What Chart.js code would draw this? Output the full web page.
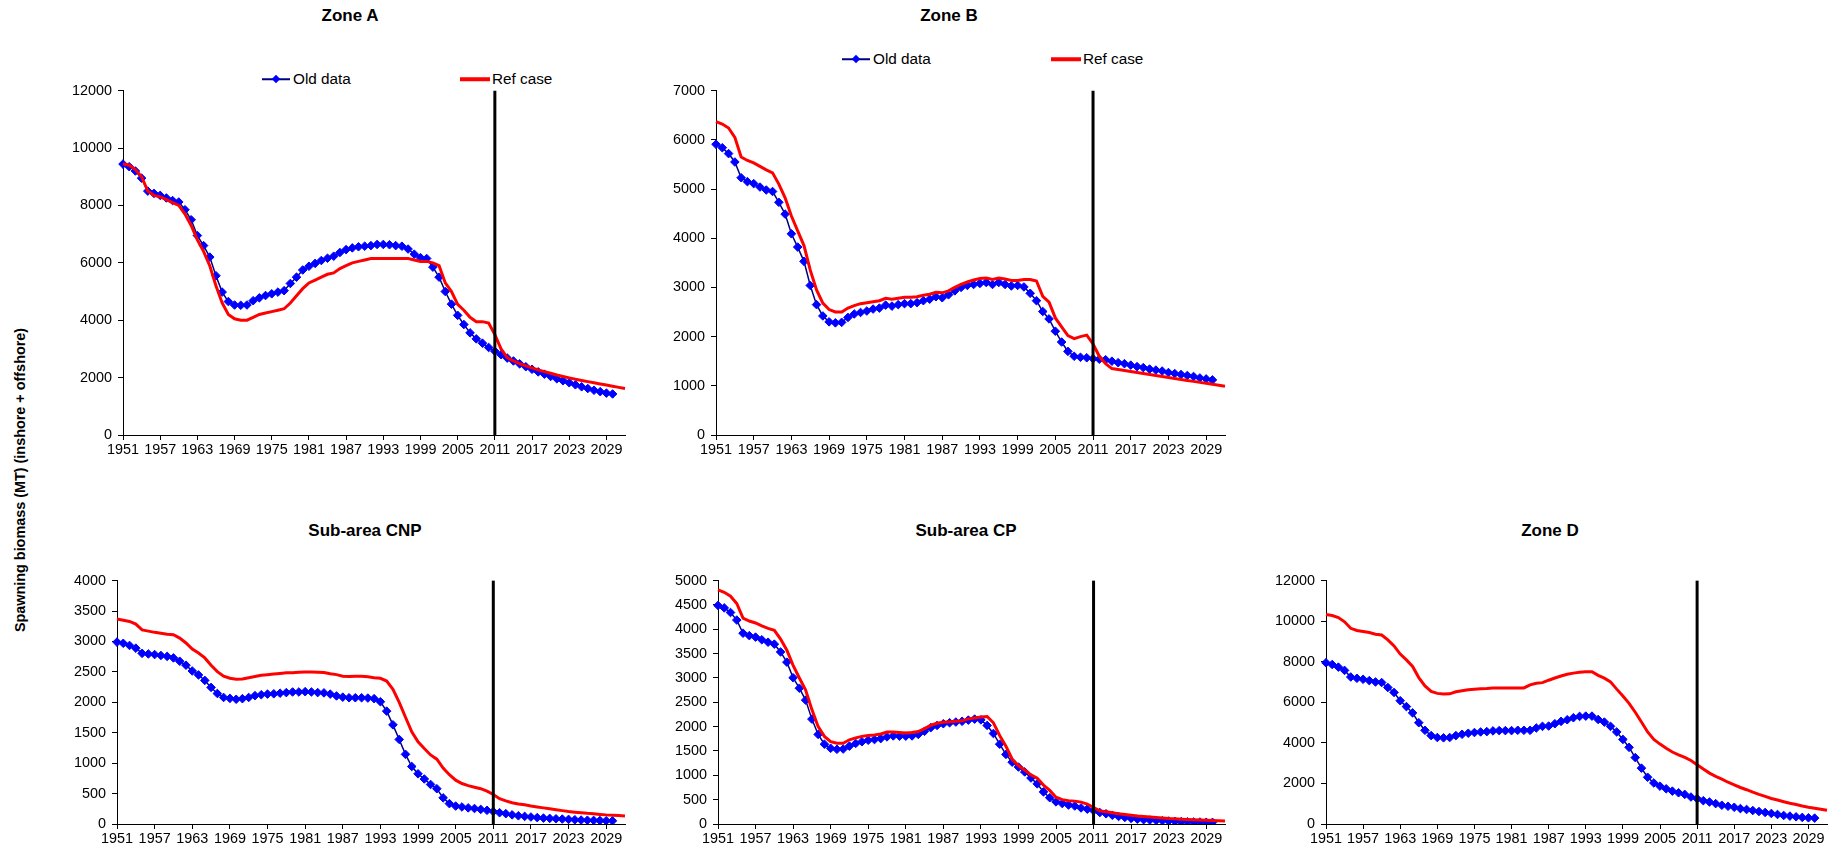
<!DOCTYPE html>
<html>
<head>
<meta charset="utf-8">
<script src="https://cdn.jsdelivr.net/npm/chart.js@4.4.1/dist/chart.umd.min.js"></script>
<style>
html,body{margin:0;padding:0;background:#fff;}
#page{position:relative;width:1832px;height:852px;overflow:hidden;font-family:"Liberation Sans",Arial,sans-serif;color:#000;}
#page canvas{position:absolute;}
.title{position:absolute;font-weight:bold;font-size:17px;line-height:1;white-space:nowrap;transform:translate(-50%,-50%);}
.ytitle{position:absolute;left:20px;top:480px;font-weight:bold;font-size:14.4px;line-height:1;white-space:nowrap;transform:translate(-50%,-50%) rotate(-90deg);}
.legtext{position:absolute;font-size:15.3px;line-height:1;white-space:nowrap;transform:translateY(-50%);}
.legline{position:absolute;transform:translateY(-50%);}
.legdiamond{position:absolute;width:6px;height:6px;background:#0000ff;transform:translate(-50%,-50%) rotate(45deg);}
</style>
</head>
<body>
<div id="page">
  <div class="title" style="left:350px;top:15px;">Zone A</div>
  <div class="title" style="left:949px;top:15px;">Zone B</div>
  <div class="title" style="left:365px;top:530px;">Sub-area CNP</div>
  <div class="title" style="left:966px;top:530px;">Sub-area CP</div>
  <div class="title" style="left:1550px;top:530px;">Zone D</div>
  <div class="ytitle">Spawning biomass (MT) (inshore + offshore)</div>

  <!-- legend Zone A -->
  <div class="legline" style="left:262px;top:79px;width:28px;height:1.5px;background:#000080;"></div>
  <div class="legdiamond" style="left:276px;top:79px;"></div>
  <div class="legtext" style="left:293px;top:79px;">Old data</div>
  <div class="legline" style="left:460px;top:79px;width:30px;height:3.5px;background:#ff0000;"></div>
  <div class="legtext" style="left:492px;top:79px;">Ref case</div>

  <!-- legend Zone B -->
  <div class="legline" style="left:842px;top:59px;width:28px;height:1.5px;background:#000080;"></div>
  <div class="legdiamond" style="left:856px;top:59px;"></div>
  <div class="legtext" style="left:873px;top:59px;">Old data</div>
  <div class="legline" style="left:1051px;top:59px;width:30px;height:3.5px;background:#ff0000;"></div>
  <div class="legtext" style="left:1083px;top:59px;">Ref case</div>
</div>
<script>
// ---------------- DATA ----------------
const YEARS = ['1951','1952','1953','1954','1955','1956','1957','1958','1959','1960',
  '1961','1962','1963','1964','1965','1966','1967','1968','1969','1970',
  '1971','1972','1973','1974','1975','1976','1977','1978','1979','1980',
  '1981','1982','1983','1984','1985','1986','1987','1988','1989','1990',
  '1991','1992','1993','1994','1995','1996','1997','1998','1999','2000',
  '2001','2002','2003','2004','2005','2006','2007','2008','2009','2010',
  '2011','2012','2013','2014','2015','2016','2017','2018','2019','2020',
  '2021','2022','2023','2024','2025','2026','2027','2028','2029','2030',
  '2031','2032'];
const X_TICK_LABELS = ['1951','1957','1963','1969','1975','1981','1987','1993','1999','2005','2011','2017','2023','2029'];
const MARKER_YEAR = '2011';

const ZONE_A_OLD = [9440,9350,9200,8950,8500,8420,8350,8260,8170,8120,
  7850,7500,6950,6600,6200,5550,4980,4650,4530,4520,
  4530,4680,4780,4860,4920,4980,5030,5280,5500,5750,
  5880,5980,6080,6160,6230,6360,6460,6520,6560,6580,
  6600,6640,6640,6630,6600,6580,6480,6300,6180,6150,
  5850,5500,5000,4560,4170,3850,3560,3350,3200,3050,
  2920,2800,2680,2580,2480,2380,2290,2200,2120,2040,
  1960,1890,1820,1750,1680,1620,1560,1510,1460,1430];
const ZONE_A_REF = [9450,9400,9250,9000,8500,8350,8300,8200,8100,8000,
  7700,7300,6800,6400,5900,5200,4600,4200,4050,4000,
  4000,4100,4200,4250,4300,4350,4400,4600,4850,5100,
  5300,5400,5500,5600,5650,5800,5900,6000,6050,6100,
  6150,6150,6150,6150,6150,6150,6150,6100,6050,6050,
  6000,5900,5300,5000,4550,4350,4100,3950,3950,3900,
  3500,3000,2700,2580,2490,2410,2340,2270,2210,2150,
  2090,2040,1990,1940,1900,1860,1820,1780,1740,1700,
  1660,1620];

const ZONE_B_OLD = [5910,5840,5720,5550,5230,5150,5110,5040,4980,4950,
  4730,4490,4090,3820,3530,3040,2650,2420,2300,2280,
  2290,2390,2460,2490,2520,2560,2580,2640,2620,2650,
  2670,2670,2690,2730,2760,2810,2790,2850,2930,3000,
  3040,3060,3080,3100,3060,3100,3060,3030,3040,3010,
  2880,2730,2510,2360,2110,1890,1700,1600,1580,1570,
  1550,1540,1530,1500,1470,1450,1420,1390,1370,1340,
  1320,1300,1270,1250,1230,1210,1190,1160,1140,1120];
const ZONE_B_REF = [6370,6320,6240,6050,5650,5580,5530,5460,5390,5330,
  5100,4820,4450,4150,3850,3350,2950,2680,2550,2500,
  2500,2580,2630,2670,2690,2710,2730,2780,2760,2780,
  2800,2800,2810,2840,2860,2900,2890,2930,3000,3060,
  3110,3150,3180,3190,3160,3190,3170,3140,3140,3160,
  3160,3130,2820,2700,2380,2200,2020,1960,2000,2030,
  1850,1600,1450,1350,1330,1310,1290,1270,1250,1230,
  1210,1190,1170,1150,1130,1110,1090,1070,1050,1030,
  1010,990];

const CNP_OLD = [2990,2970,2935,2890,2805,2795,2785,2770,2755,2730,
  2675,2610,2515,2450,2360,2245,2145,2080,2065,2050,
  2060,2080,2110,2125,2135,2140,2150,2160,2170,2170,
  2175,2170,2160,2155,2135,2105,2085,2075,2075,2075,
  2070,2060,2010,1855,1630,1390,1145,945,825,740,
  650,580,430,335,295,280,265,255,240,225,
  205,185,170,150,135,125,115,105,97,92,
  86,81,76,70,65,62,59,57,54,52];
const CNP_REF = [3370,3350,3330,3285,3190,3170,3150,3135,3120,3110,
  3055,2975,2875,2810,2730,2610,2505,2430,2395,2380,
  2385,2405,2425,2445,2455,2465,2475,2485,2485,2495,
  2500,2500,2495,2490,2470,2455,2430,2425,2430,2430,
  2420,2405,2395,2350,2215,2000,1755,1515,1350,1240,
  1135,1065,920,810,720,665,630,605,580,540,
  485,415,380,350,330,315,295,280,265,250,
  235,220,205,195,185,175,168,158,150,145,
  140,130];

const CP_OLD = [4490,4440,4345,4190,3920,3870,3840,3785,3735,3695,
  3535,3325,3005,2790,2545,2155,1840,1640,1555,1535,
  1540,1600,1655,1690,1720,1735,1755,1790,1810,1805,
  1805,1810,1840,1905,1980,2025,2060,2080,2095,2110,
  2135,2155,2140,2025,1860,1640,1430,1270,1170,1070,
  945,825,660,540,455,420,390,370,330,305,
  275,235,210,180,155,135,115,100,88,80,
  74,68,61,54,48,45,41,40,36,34];
const CP_REF = [4810,4760,4680,4530,4230,4170,4130,4070,4020,3980,
  3800,3570,3260,3000,2750,2350,2000,1800,1690,1660,
  1660,1730,1770,1800,1820,1830,1850,1890,1890,1880,
  1870,1880,1900,1960,2030,2070,2090,2100,2110,2120,
  2160,2180,2200,2210,2080,1820,1600,1330,1200,1110,
  1010,940,800,690,550,500,480,470,450,410,
  340,270,250,230,210,195,180,165,155,145,
  135,125,115,108,100,93,87,80,75,70,
  65,60];

const ZONE_D_OLD = [7950,7865,7735,7575,7250,7185,7135,7070,7005,6975,
  6730,6485,6080,5790,5480,4995,4620,4360,4265,4250,
  4265,4360,4425,4475,4510,4540,4555,4590,4605,4605,
  4605,4620,4620,4620,4735,4815,4830,4945,5060,5140,
  5240,5305,5320,5320,5155,5025,4815,4540,4170,3780,
  3275,2755,2305,2025,1865,1735,1620,1540,1460,1330,
  1250,1150,1085,1005,925,875,825,760,715,665,
  615,570,520,470,420,390,355,325,305,290];
const ZONE_D_REF = [10330,10280,10180,9970,9650,9540,9490,9440,9360,9320,
  9080,8780,8380,8090,7770,7220,6810,6540,6440,6410,
  6420,6520,6570,6620,6650,6670,6680,6700,6700,6700,
  6700,6710,6710,6860,6940,6970,7090,7200,7300,7380,
  7440,7480,7510,7510,7330,7190,7010,6650,6310,5950,
  5510,5030,4540,4170,3940,3730,3550,3410,3280,3130,
  2920,2710,2510,2350,2210,2060,1930,1800,1690,1570,
  1460,1360,1260,1180,1100,1020,960,890,830,780,
  730,680];

const SERIES_NAMES = ['Old data', 'Ref case'];

// ---------------- CHARTS ----------------
const FONT = '"Liberation Sans", Arial, sans-serif';
const page = document.getElementById('page');

const markerLine = {
  id: 'markerLine',
  afterDatasetsDraw(chart) {
    const x = chart.scales.x.getPixelForValue(YEARS.indexOf(MARKER_YEAR));
    const a = chart.chartArea;
    const ctx = chart.ctx;
    ctx.save();
    ctx.strokeStyle = '#000';
    ctx.lineWidth = 3;
    ctx.beginPath();
    ctx.moveTo(x, a.top);
    ctx.lineTo(x, a.bottom);
    ctx.stroke();
    ctx.restore();
  }
};

function makeChart(plot, yMax, yStep, oldData, refData) {
  const padL = 90, padT = 12, padR = 24, padB = 36;
  const cv = document.createElement('canvas');
  cv.width = plot.r - plot.l + padL + padR;
  cv.height = plot.b - plot.t + padT + padB;
  cv.style.left = (plot.l - padL) + 'px';
  cv.style.top = (plot.t - padT) + 'px';
  page.appendChild(cv);
  new Chart(cv, {
    type: 'line',
    data: {
      labels: YEARS,
      datasets: [
        { label: SERIES_NAMES[0], data: oldData, order: 1,
          borderColor: '#000080', borderWidth: 1.5,
          pointStyle: 'rectRot', pointRadius: 4.3, pointBorderWidth: 1,
          pointBackgroundColor: '#0000ff', pointBorderColor: '#0000ff',
          tension: 0 },
        { label: SERIES_NAMES[1], data: refData, order: 0,
          borderColor: '#ff0000', borderWidth: 3, pointRadius: 0, tension: 0 }
      ]
    },
    options: {
      responsive: false,
      animation: false,
      devicePixelRatio: 1,
      layout: { padding: { left: 0, top: padT, right: padR, bottom: 0 } },
      plugins: { legend: { display: false }, title: { display: false }, tooltip: { enabled: false } },
      events: [],
      scales: {
        x: {
          type: 'category',
          offset: false,
          afterFit(s) { s.height = padB; },
          border: { display: true, color: '#000', width: 1 },
          grid: { drawOnChartArea: false, drawTicks: true, tickLength: 5,
                  color: (c) => (X_TICK_LABELS.includes(YEARS[c.index]) ? '#000' : 'rgba(0,0,0,0)') },
          ticks: { autoSkip: false, maxRotation: 0, minRotation: 0, padding: 1,
                   color: '#000', font: { family: FONT, size: 14.4 },
                   callback: (v, i) => (X_TICK_LABELS.includes(YEARS[i]) ? YEARS[i] : '') }
        },
        y: {
          min: 0, max: yMax,
          afterFit(s) { s.width = padL; },
          border: { display: true, color: '#000', width: 1 },
          grid: { drawOnChartArea: false, drawTicks: true, tickLength: 5, color: '#000' },
          ticks: { stepSize: yStep, padding: 6, color: '#000',
                   font: { family: FONT, size: 14.4 },
                   callback: (v) => String(v) }
        }
      }
    },
    plugins: [markerLine]
  });
}

makeChart({ l: 123, t: 88, r: 625, b: 435 }, 12000, 2000, ZONE_A_OLD, ZONE_A_REF);
makeChart({ l: 716, t: 88, r: 1225, b: 435 }, 7000, 1000, ZONE_B_OLD, ZONE_B_REF);
makeChart({ l: 117, t: 578, r: 625, b: 824 }, 4000, 500, CNP_OLD, CNP_REF);
makeChart({ l: 718, t: 578, r: 1225, b: 824 }, 5000, 500, CP_OLD, CP_REF);
makeChart({ l: 1326, t: 578, r: 1827, b: 824 }, 12000, 2000, ZONE_D_OLD, ZONE_D_REF);
</script>
</body>
</html>
